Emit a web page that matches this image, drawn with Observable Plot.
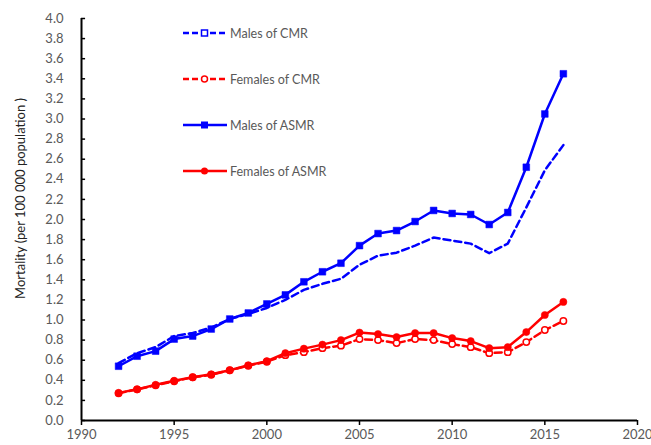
<!DOCTYPE html>
<html>
<head>
<meta charset="utf-8">
<script src="https://cdn.jsdelivr.net/npm/d3@7"></script>
<script src="https://cdn.jsdelivr.net/npm/@observablehq/plot@0.6"></script>
<style>
  html, body { margin: 0; padding: 0; background: #fff; }
  #wrap { position: relative; width: 651px; height: 445px; font-family: Lato, "Open Sans", sans-serif; }
  #legend { position: absolute; left: 183px; top: 0; }
  .row { position: absolute; left: 0; display: flex; align-items: center; white-space: nowrap; height: 16px; }
  .row span { font-size: 12.5px; color: #595959; margin-left: 3px; }
</style>
</head>
<body>
<div id="wrap"></div>
<script>
const years = [1992,1993,1994,1995,1996,1997,1998,1999,2000,2001,2002,2003,2004,2005,2006,2007,2008,2009,2010,2011,2012,2013,2014,2015,2016];
const malesCMR   = [0.57,0.67,0.73,0.84,0.87,0.925,1.01,1.06,1.12,1.20,1.30,1.36,1.41,1.55,1.64,1.67,1.74,1.82,1.79,1.76,1.665,1.76,2.12,2.49,2.74];
const femalesCMR = [0.27,0.31,0.35,0.39,0.43,0.455,0.50,0.545,0.585,0.65,0.68,0.72,0.745,0.81,0.80,0.77,0.81,0.80,0.76,0.73,0.67,0.68,0.78,0.90,0.99];
const malesASMR  = [0.54,0.64,0.69,0.81,0.84,0.91,1.01,1.07,1.16,1.25,1.38,1.48,1.565,1.74,1.86,1.89,1.98,2.09,2.06,2.05,1.95,2.07,2.52,3.05,3.45];
const femalesASMR= [0.275,0.31,0.355,0.395,0.43,0.46,0.50,0.55,0.59,0.67,0.715,0.755,0.80,0.875,0.86,0.83,0.87,0.87,0.82,0.79,0.72,0.73,0.88,1.05,1.18];
const xTicks = [1990,1995,2000,2005,2010,2015,2020];
const yTicks = [0,0.2,0.4,0.6,0.8,1.0,1.2,1.4,1.6,1.8,2.0,2.2,2.4,2.6,2.8,3.0,3.2,3.4,3.6,3.8,4.0];
const seriesNames = ["Males of CMR","Females of CMR","Males of ASMR","Females of ASMR"];
const yLabel = "Mortality (per 100 000 population )";

const BLUE = "#0000ff", RED = "#ff0000";
const mk = vals => years.map((y, i) => ({year: y, value: vals[i]}));
const mC = mk(malesCMR), fC = mk(femalesCMR), mA = mk(malesASMR), fA = mk(femalesASMR);

const chart = Plot.plot({
  width: 651, height: 445,
  marginLeft: 81, marginRight: 14, marginTop: 18, marginBottom: 25,
  style: {fontFamily: "Lato, 'Open Sans', sans-serif", background: "#fff", overflow: "visible"},
  x: {domain: [1990, 2020]},
  y: {domain: [0, 4]},
  marks: [
    Plot.axisX({ticks: xTicks, tickFormat: d => String(d), tickSize: 5, tickPadding: 4, stroke: "#000", strokeWidth: 1.5, fill: "#595959", fontSize: 13, label: null}),
    Plot.axisY({ticks: yTicks, tickFormat: d => d.toFixed(1), tickSize: 0, tickPadding: 18, fill: "#595959", fontSize: 13, label: null}),
    Plot.ruleY(yTicks, {y: d => d, x1: () => 1990, x2: () => 1990.22, stroke: "#000", strokeWidth: 1.5}),
    Plot.ruleY([0], {stroke: "#000", strokeWidth: 2}),
    Plot.ruleX([1990], {stroke: "#000", strokeWidth: 2}),
    Plot.text([yLabel], {frameAnchor: "left", textAnchor: "middle", dx: -61, dy: -21, rotate: -90, fontSize: 13, fill: "#222"}),
    Plot.line(mC, {x: "year", y: "value", stroke: BLUE, strokeWidth: 2.5, strokeDasharray: "7,4"}),
    Plot.line(fC, {x: "year", y: "value", stroke: RED, strokeWidth: 2.5, strokeDasharray: "7,4"}),
    Plot.line(mA, {x: "year", y: "value", stroke: BLUE, strokeWidth: 2.5}),
    Plot.line(fA, {x: "year", y: "value", stroke: RED, strokeWidth: 2.5}),
    Plot.dot(mA, {x: "year", y: "value", symbol: "square", r: 3.8, fill: BLUE, stroke: BLUE, strokeWidth: 0.5}),
    Plot.dot(fC, {x: "year", y: "value", r: 3.2, fill: "#fff", stroke: RED, strokeWidth: 1.5}),
    Plot.dot(fA, {x: "year", y: "value", r: 3.6, fill: RED, stroke: RED, strokeWidth: 0.5})
  ]
});

const wrap = document.getElementById("wrap");
wrap.appendChild(chart);

// legend
const legend = document.createElement("div");
legend.id = "legend";
const swatches = [
  `<svg width="44" height="10"><line x1="0" y1="5" x2="44" y2="5" stroke="${BLUE}" stroke-width="2.5" stroke-dasharray="6,3"/><rect x="18.5" y="2" width="6" height="6" fill="#fff" stroke="${BLUE}" stroke-width="1.5"/></svg>`,
  `<svg width="44" height="10"><line x1="0" y1="5" x2="44" y2="5" stroke="${RED}" stroke-width="2.5" stroke-dasharray="6,3"/><circle cx="21.5" cy="5" r="3" fill="#fff" stroke="${RED}" stroke-width="1.5"/></svg>`,
  `<svg width="44" height="10"><line x1="0" y1="5" x2="44" y2="5" stroke="${BLUE}" stroke-width="2.5"/><rect x="18" y="1.5" width="7" height="7" fill="${BLUE}"/></svg>`,
  `<svg width="44" height="10"><line x1="0" y1="5" x2="44" y2="5" stroke="${RED}" stroke-width="2.5"/><circle cx="21.5" cy="5" r="3.5" fill="${RED}"/></svg>`
];
const rowY = [33, 79, 125, 171];
seriesNames.forEach((name, i) => {
  const row = document.createElement("div");
  row.className = "row";
  row.style.top = (rowY[i] - 8) + "px";
  row.innerHTML = swatches[i] + `<span>${name}</span>`;
  legend.appendChild(row);
});
wrap.appendChild(legend);
</script>
</body>
</html>
